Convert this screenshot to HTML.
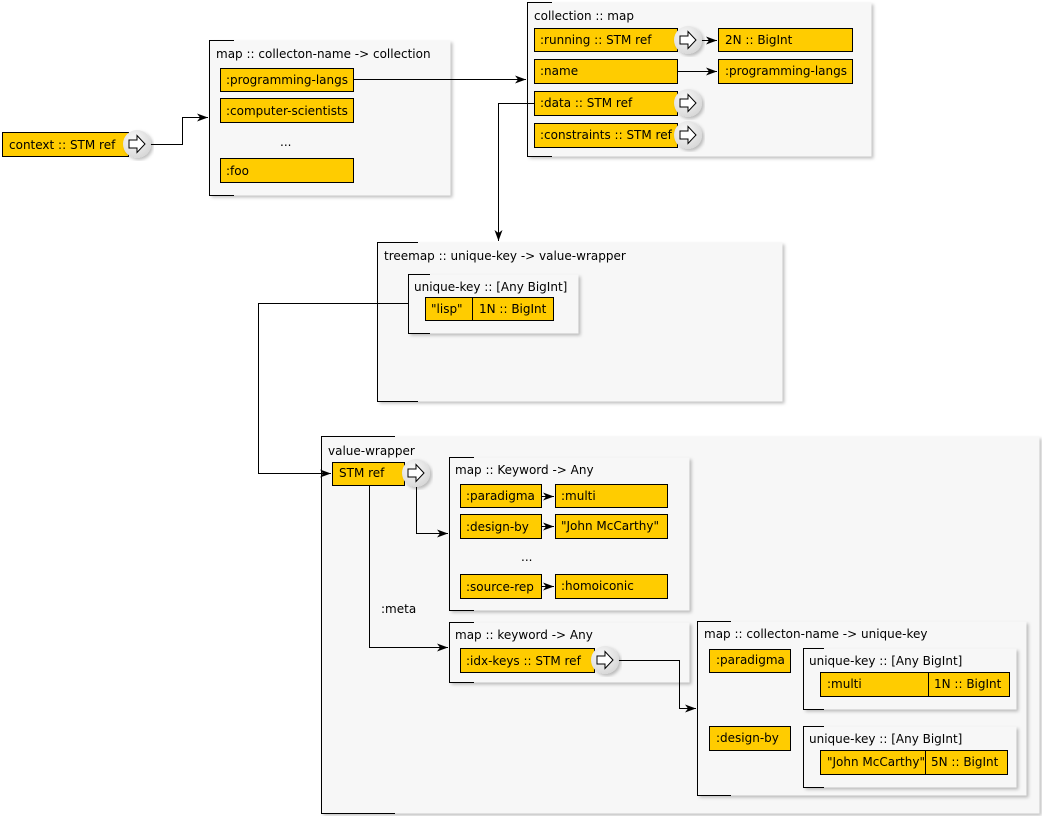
<!DOCTYPE html>
<html><head><meta charset="utf-8"><style>
body{margin:0;background:#fff}
svg text{font-family:"DejaVu Sans","Liberation Sans",sans-serif;font-size:12px;fill:#000}
</style></head><body>
<svg width="1042" height="816" viewBox="0 0 1042 816" xmlns="http://www.w3.org/2000/svg">
<defs>
<filter id="sh" x="-5%" y="-5%" width="115%" height="115%"><feDropShadow dx="2" dy="2" stdDeviation="1.5" flood-color="#000" flood-opacity="0.25"/></filter>
<radialGradient id="cg" cx="40%" cy="35%" r="70%"><stop offset="0" stop-color="#fafafa"/><stop offset="1" stop-color="#d6d6d6"/></radialGradient>
<marker id="ar" markerWidth="12" markerHeight="10" refX="11" refY="5" orient="auto" markerUnits="userSpaceOnUse"><path d="M0,1 L11,5 L0,9 L3,5 z" fill="#000"/></marker>
<symbol id="btn" viewBox="-16 -16 32 32" overflow="visible"><circle r="14" fill="url(#cg)" filter="url(#sh)"/><path d="M-8,-4 L0,-4 L0,-8.5 L8,0 L0,8.5 L0,4 L-8,4 z" fill="#fff" stroke="#000" stroke-width="1"/></symbol>
</defs>
<g>
<rect x="209.5" y="40.5" width="241" height="155" fill="#f7f7f7" filter="url(#sh)"/>
<path d="M234,40.5 H209.5 V195.5 H234" stroke="#000" fill="none"/>
<rect x="527.5" y="2.5" width="344" height="154" fill="#f7f7f7" filter="url(#sh)"/>
<path d="M552,2.5 H527.5 V156.5 H552" stroke="#000" fill="none"/>
<rect x="377.5" y="242.5" width="405" height="159" fill="#f7f7f7" filter="url(#sh)"/>
<path d="M418,242.5 H377.5 V401.5 H418" stroke="#000" fill="none"/>
<rect x="408.5" y="274.5" width="170" height="59" fill="#f7f7f7" filter="url(#sh)"/>
<path d="M430,274.5 H408.5 V333.5 H430" stroke="#000" fill="none"/>
<rect x="321.5" y="436.5" width="718" height="377" fill="#f7f7f7" filter="url(#sh)"/>
<path d="M395,436.5 H321.5 V813.5 H395" stroke="#000" fill="none"/>
<rect x="449.5" y="457.5" width="240" height="153" fill="#f7f7f7" filter="url(#sh)"/>
<path d="M474,457.5 H449.5 V610.5 H474" stroke="#000" fill="none"/>
<rect x="449.5" y="622.5" width="240" height="60" fill="#f7f7f7" filter="url(#sh)"/>
<path d="M474,622.5 H449.5 V682.5 H474" stroke="#000" fill="none"/>
<rect x="697.5" y="621.5" width="329" height="174" fill="#f7f7f7" filter="url(#sh)"/>
<path d="M731,621.5 H697.5 V795.5 H731" stroke="#000" fill="none"/>
<rect x="803.5" y="648.5" width="213" height="61" fill="#f7f7f7" filter="url(#sh)"/>
<path d="M824,648.5 H803.5 V709.5 H824" stroke="#000" fill="none"/>
<rect x="803.5" y="726.5" width="213" height="61" fill="#f7f7f7" filter="url(#sh)"/>
<path d="M824,726.5 H803.5 V787.5 H824" stroke="#000" fill="none"/>
</g>
<g fill="#ffcc00" stroke="#000" stroke-width="1">
<rect x="2.5" y="132.5" width="126" height="24"/>
<rect x="220.5" y="68.5" width="133" height="23"/>
<rect x="220.5" y="98.5" width="133" height="24"/>
<rect x="220.5" y="158.5" width="133" height="24"/>
<rect x="534.5" y="28.5" width="143" height="23"/>
<rect x="534.5" y="59.5" width="143" height="24"/>
<rect x="534.5" y="91.5" width="143" height="24"/>
<rect x="534.5" y="123.5" width="143" height="24"/>
<rect x="718.5" y="28.5" width="134" height="23"/>
<rect x="718.5" y="59.5" width="134" height="24"/>
<rect x="425.5" y="297.5" width="47" height="23"/>
<rect x="472.5" y="297.5" width="81" height="23"/>
<rect x="332.5" y="462.5" width="72" height="23"/>
<rect x="460.5" y="484.5" width="81" height="23"/>
<rect x="555.5" y="484.5" width="112" height="23"/>
<rect x="460.5" y="514.5" width="81" height="24"/>
<rect x="555.5" y="514.5" width="112" height="24"/>
<rect x="460.5" y="574.5" width="81" height="24"/>
<rect x="555.5" y="574.5" width="112" height="24"/>
<rect x="460.5" y="648.5" width="134" height="24"/>
<rect x="709.5" y="649.5" width="81" height="23"/>
<rect x="709.5" y="726.5" width="81" height="24"/>
<rect x="820.5" y="672.5" width="108" height="24"/>
<rect x="928.5" y="672.5" width="81" height="24"/>
<rect x="820.5" y="750.5" width="105" height="24"/>
<rect x="925.5" y="750.5" width="82" height="24"/>
</g>
<g stroke="#000" fill="none" stroke-width="1">
<path d="M150,144.5 H182.5 V117.5 H208" marker-end="url(#ar)"/>
<path d="M354,79.5 H526" marker-end="url(#ar)"/>
<path d="M701,40.5 H717" marker-end="url(#ar)"/>
<path d="M678,71.5 H717" marker-end="url(#ar)"/>
<path d="M534,103.5 H498.5 V241" marker-end="url(#ar)"/>
<path d="M408,303.5 H258.5 V473.5 H331" marker-end="url(#ar)"/>
<path d="M416.5,487 V533.5 H448" marker-end="url(#ar)"/>
<path d="M369.5,486 V647.5 H448" marker-end="url(#ar)"/>
<path d="M618,660.5 H679.5 V708.5 H696" marker-end="url(#ar)"/>
<path d="M542,496.5 H554" marker-end="url(#ar)"/>
<path d="M542,526.5 H554" marker-end="url(#ar)"/>
<path d="M542,586.5 H554" marker-end="url(#ar)"/>
</g>
<use href="#btn" x="121" y="128" width="32" height="32"/>
<use href="#btn" x="672" y="24" width="32" height="32"/>
<use href="#btn" x="672" y="87" width="32" height="32"/>
<use href="#btn" x="672" y="119" width="32" height="32"/>
<use href="#btn" x="400" y="457" width="32" height="32"/>
<use href="#btn" x="589" y="644" width="32" height="32"/>
<text x="9" y="149">context :: STM ref</text>
<text x="216" y="58">map :: collecton-name -&gt; collection</text>
<text x="226" y="84">:programming-langs</text>
<text x="226" y="115">:computer-scientists</text>
<text x="280" y="146">...</text>
<text x="226" y="175">:foo</text>
<text x="534" y="20">collection :: map</text>
<text x="540" y="44">:running :: STM ref</text>
<text x="540" y="75">:name</text>
<text x="540" y="107">:data :: STM ref</text>
<text x="540" y="139">:constraints :: STM ref</text>
<text x="725" y="44">2N :: BigInt</text>
<text x="725" y="75">:programming-langs</text>
<text x="384" y="260">treemap :: unique-key -&gt; value-wrapper</text>
<text x="414" y="291">unique-key :: [Any BigInt]</text>
<text x="431" y="313">"lisp"</text>
<text x="479" y="313">1N :: BigInt</text>
<text x="328" y="455">value-wrapper</text>
<text x="339" y="477">STM ref</text>
<text x="455" y="474">map :: Keyword -&gt; Any</text>
<text x="466" y="500">:paradigma</text>
<text x="561" y="500">:multi</text>
<text x="466" y="531">:design-by</text>
<text x="561" y="530">"John McCarthy"</text>
<text x="521" y="561">...</text>
<text x="466" y="591">:source-rep</text>
<text x="561" y="590">:homoiconic</text>
<text x="381" y="613">:meta</text>
<text x="455" y="639">map :: keyword -&gt; Any</text>
<text x="466" y="665">:idx-keys :: STM ref</text>
<text x="704" y="638">map :: collecton-name -&gt; unique-key</text>
<text x="716" y="664">:paradigma</text>
<text x="716" y="742">:design-by</text>
<text x="809" y="665">unique-key :: [Any BigInt]</text>
<text x="827" y="688">:multi</text>
<text x="934" y="688">1N :: BigInt</text>
<text x="809" y="743">unique-key :: [Any BigInt]</text>
<text x="827" y="766">"John McCarthy"</text>
<text x="931" y="766">5N :: BigInt</text>
</svg>
</body></html>
